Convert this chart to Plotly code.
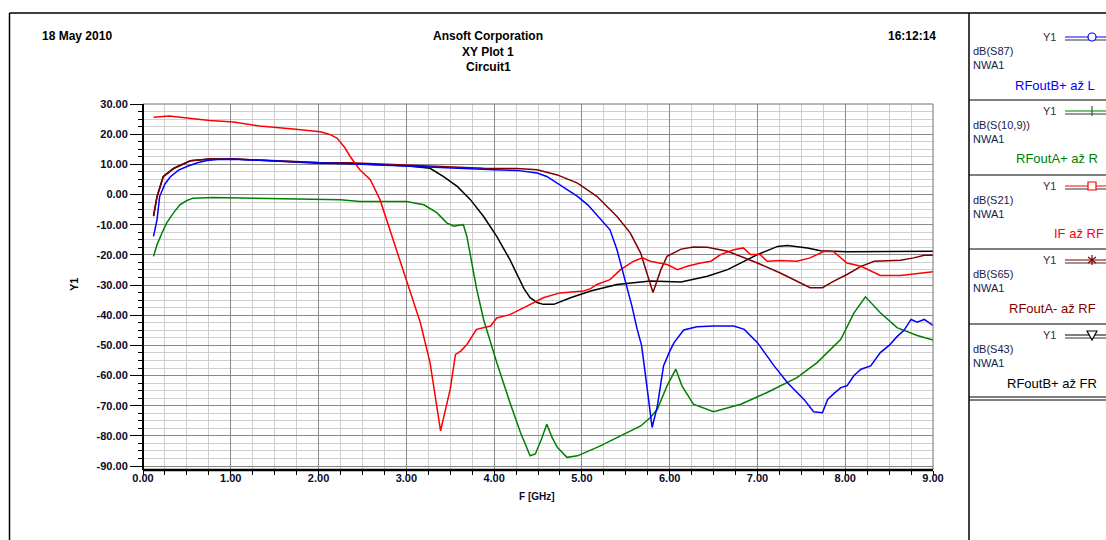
import plotly.graph_objects as go

# ---------------- data ----------------
f_blue = [0.12, 0.16, 0.19, 0.25, 0.31, 0.40, 0.50, 0.62, 0.73, 0.85,
          1.03, 1.50, 2.00, 2.36, 2.80, 3.31, 3.69, 4.00, 4.26, 4.49,
          4.60, 4.72, 4.85, 4.95, 5.07, 5.17, 5.32, 5.40, 5.50, 5.57,
          5.63, 5.68, 5.74, 5.80, 5.86, 5.93, 6.00, 6.05, 6.16, 6.31,
          6.50, 6.73, 6.85, 7.00, 7.19, 7.34, 7.53, 7.64, 7.74, 7.80,
          7.87, 7.95, 8.02, 8.10, 8.18, 8.29, 8.40, 8.50, 8.59, 8.67,
          8.75, 8.82, 8.90, 9.00]
db_blue = [-13.9, -8.3, -0.6, 3.5, 5.8, 8.0, 9.3, 10.5, 11.3, 11.6,
           11.7, 11.0, 10.5, 10.2, 9.6, 9.1, 8.5, 8.2, 8.0, 7.1,
           6.0, 3.8, 1.5, -0.6, -3.5, -6.7, -11.7, -18.3, -29.3, -37.0,
           -44.7, -50.0, -63.4, -77.2, -70.1, -56.8, -52.0, -49.1, -44.9, -43.8,
           -43.6, -43.6, -44.7, -49.1, -56.8, -62.3, -67.9, -72.0, -72.3, -67.9,
           -66.0, -64.0, -63.4, -60.0, -57.9, -56.8, -52.4, -50.0, -47.1, -45.0,
           -41.4, -42.3, -41.4, -43.4]

f_green = [0.12, 0.16, 0.22, 0.27, 0.35, 0.42, 0.50, 0.57, 0.80, 1.18,
           1.80, 2.25, 2.47, 3.00, 3.20, 3.35, 3.46, 3.54, 3.60, 3.65,
           3.69, 3.75, 3.80, 3.88, 4.03, 4.18, 4.30, 4.41, 4.47, 4.54,
           4.60, 4.66, 4.72, 4.83, 4.95, 5.21, 5.48, 5.67, 5.78, 5.86,
           5.97, 6.07, 6.14, 6.27, 6.50, 6.81, 7.11, 7.45, 7.68, 7.95,
           8.10, 8.23, 8.40, 8.59, 8.82, 9.00]
db_green = [-20.5, -16.6, -12.5, -9.4, -6.0, -3.4, -2.0, -1.2, -1.0, -1.2,
            -1.4, -1.7, -2.3, -2.3, -3.4, -6.1, -9.4, -10.5, -10.2, -10.0,
            -13.9, -22.7, -31.2, -41.4, -55.7, -68.9, -78.9, -86.6, -86.0, -81.0,
            -76.1, -80.5, -83.8, -87.1, -86.6, -83.3, -79.4, -76.7, -73.9, -71.2,
            -63.4, -57.9, -63.4, -69.5, -72.0, -69.5, -65.6, -60.7, -55.7, -48.0,
            -39.2, -33.9, -39.2, -44.1, -46.7, -48.2]

f_red = [0.12, 0.30, 0.50, 0.76, 1.03, 1.33, 1.71, 2.02, 2.12, 2.21,
         2.30, 2.36, 2.47, 2.59, 2.70, 2.85, 3.03, 3.16, 3.27, 3.39,
         3.50, 3.56, 3.62, 3.69, 3.80, 3.96, 4.03, 4.18, 4.34, 4.56,
         4.75, 5.02, 5.10, 5.17, 5.32, 5.44, 5.59, 5.69, 5.78, 5.89,
         5.97, 6.09, 6.20, 6.35, 6.47, 6.58, 6.73, 6.84, 6.92, 7.03,
         7.11, 7.26, 7.45, 7.60, 7.76, 7.87, 8.02, 8.18, 8.29, 8.40,
         8.63, 8.78, 9.00]
db_red = [25.6, 26.0, 25.4, 24.5, 24.0, 22.7, 21.7, 20.8, 20.0, 18.7,
          15.5, 12.6, 8.2, 4.9, -1.7, -15.0, -30.4, -42.5, -55.7, -78.3,
          -64.5, -53.0, -51.9, -49.7, -44.7, -43.6, -40.9, -39.8, -37.5, -34.2,
          -32.6, -32.0, -31.2, -29.8, -28.2, -24.9, -22.1, -21.0, -22.1, -22.7,
          -23.2, -24.9, -23.8, -22.7, -22.1, -19.9, -18.3, -17.7, -19.9, -19.9,
          -22.1, -21.9, -22.1, -21.0, -18.8, -19.0, -22.7, -23.8, -25.4, -26.8,
          -26.8, -26.3, -25.6]

f_maroon = [0.12, 0.16, 0.23, 0.35, 0.54, 0.76, 1.03, 1.50, 2.00, 2.36,
            3.00, 3.50, 3.88, 4.26, 4.49, 4.72, 4.95, 5.17, 5.40, 5.55,
            5.67, 5.74, 5.81, 5.90, 5.97, 6.13, 6.27, 6.43, 6.66, 7.00,
            7.26, 7.60, 7.74, 7.87, 8.02, 8.18, 8.33, 8.63, 8.78, 8.90,
            9.00]
db_maroon = [-7.0, -0.8, 5.8, 8.6, 11.2, 11.8, 11.8, 11.3, 10.6, 10.5,
             9.8, 9.1, 8.7, 8.6, 8.2, 6.5, 3.8, -0.6, -7.3, -12.7,
             -19.4, -26.0, -32.5, -24.9, -20.5, -18.1, -17.4, -17.5, -18.8, -22.7,
             -26.0, -30.9, -30.9, -28.7, -26.5, -23.8, -22.1, -21.8, -21.0, -20.1,
             -20.1]

f_black = [0.12, 0.16, 0.23, 0.35, 0.54, 0.76, 1.03, 1.50, 2.00, 2.40,
           3.00, 3.27, 3.42, 3.58, 3.73, 3.88, 4.03, 4.18, 4.34, 4.41,
           4.49, 4.56, 4.68, 4.87, 5.10, 5.40, 5.78, 6.13, 6.43, 6.66,
           6.81, 7.00, 7.23, 7.34, 7.57, 7.72, 8.02, 8.33, 8.71, 9.00]
db_black = [-7.2, -0.6, 6.0, 8.7, 11.2, 11.8, 11.8, 11.2, 10.4, 10.2,
            9.5, 8.7, 6.0, 2.7, -1.7, -7.3, -13.9, -21.6, -31.2, -34.2,
            -35.8, -36.4, -36.4, -34.2, -32.0, -29.8, -28.7, -29.0, -27.1, -24.9,
            -22.7, -19.9, -17.2, -16.9, -17.7, -18.6, -19.0, -19.0, -18.8, -18.8]

y_ticks = [30, 20, 10, 0, -10, -20, -30, -40, -50, -60, -70, -80, -90]
x_ticks = [0, 1, 2, 3, 4, 5, 6, 7, 8, 9]

legend_names = ["RFoutB+ až L", "RFoutA+ až R", "IF až RF", "RFoutA- až RF", "RFoutB+ až FR"]
legend_exprs = ["dB(S87)", "dB(S(10,9))", "dB(S21)", "dB(S65)", "dB(S43)"]
legend_colors = ["#0000ff", "#008000", "#ff0000", "#800000", "#000000"]
legend_symbols = ["circle", "plus", "square", "asterisk", "triangle"]

# ---------------- geometry helpers ----------------
W, H = 1106, 540
L, R, T, B = 143, 933, 104, 470


def px(x):
    return (x - L) / (R - L)


def py(y):
    return (B - y) / (B - T)


fig = go.Figure()

series = [
    (f_green, db_green, "#008000"),
    (f_black, db_black, "#000000"),
    (f_maroon, db_maroon, "#800000"),
    (f_red, db_red, "#ff0000"),
    (f_blue, db_blue, "#0000ff"),
]
for fx, fy, col in series:
    fig.add_trace(go.Scatter(x=fx, y=fy, mode="lines",
                             line=dict(color=col, width=1.5),
                             showlegend=False, hoverinfo="skip"))

tick_font = dict(family="Liberation Sans, Arial, sans-serif", size=11, color="#0a0a2a")

fig.update_xaxes(range=[0, 9], tickvals=x_ticks,
                 ticktext=[f"<b>{v:.2f}</b>" for v in x_ticks],
                 tickfont=tick_font, showgrid=True, gridcolor="#8a8a8a", gridwidth=1,
                 zeroline=False, showline=False, ticks="", ticklen=0,
                 minor=dict(dtick=0.25, tick0=0, showgrid=True, gridcolor="#cfcfcf",
                            gridwidth=1, ticks="outside", ticklen=4, tickcolor="#000"),
                 fixedrange=True)
fig.update_yaxes(range=[-91.3, 30], tickvals=y_ticks,
                 ticktext=[f"<b>{v:.2f}</b>" for v in y_ticks],
                 tickfont=tick_font, showgrid=True, gridcolor="#8a8a8a", gridwidth=1,
                 zeroline=False, showline=False, ticks="outside", ticklen=12,
                 tickcolor="#000", tickwidth=1,
                 minor=dict(dtick=2.5, tick0=0, showgrid=True, gridcolor="#cfcfcf",
                            gridwidth=1, ticks="outside", ticklen=4, tickcolor="#000"),
                 fixedrange=True)

shapes = []
# plot box (gray top/right) and black left/bottom axis lines
shapes.append(dict(type="rect", xref="paper", yref="paper", x0=0, y0=0, x1=1, y1=1,
                   line=dict(color="#707070", width=1)))
shapes.append(dict(type="line", xref="paper", yref="paper", x0=0, y0=0, x1=0, y1=1,
                   line=dict(color="#000", width=2)))
shapes.append(dict(type="line", xref="paper", yref="paper", x0=0, y0=0, x1=1, y1=0,
                   line=dict(color="#000", width=2.5)))
# outer frame
shapes.append(dict(type="line", xref="paper", yref="paper", x0=px(9.5), y0=py(13), x1=px(9.5), y1=py(545),
                   line=dict(color="#000", width=1.5)))
shapes.append(dict(type="line", xref="paper", yref="paper", x0=px(9.5), y0=py(13), x1=px(1110), y1=py(13),
                   line=dict(color="#000", width=1.5)))
shapes.append(dict(type="line", xref="paper", yref="paper", x0=px(969), y0=py(13), x1=px(969), y1=py(545),
                   line=dict(color="#000", width=1.5)))

annotations = []
hdr_font = dict(family="Liberation Sans Narrow, Arial Narrow, Liberation Sans, Arial", size=12, color="#000")
annotations.append(dict(text="<b>18 May 2010</b>", x=px(40), y=py(36), xref="paper", yref="paper",
                        xanchor="left", yanchor="middle", showarrow=False, font=hdr_font))
annotations.append(dict(text="<b>16:12:14</b>", x=px(938), y=py(36), xref="paper", yref="paper",
                        xanchor="right", yanchor="middle", showarrow=False, font=hdr_font))
for txt, yy in [("Ansoft Corporation", 36), ("XY Plot 1", 52), ("Circuit1", 67)]:
    annotations.append(dict(text=f"<b>{txt}</b>", x=px(488), y=py(yy), xref="paper", yref="paper",
                            xanchor="center", yanchor="middle", showarrow=False, font=hdr_font))
annotations.append(dict(text="<b>Y1</b>", x=px(74), y=py(285), xref="paper", yref="paper",
                        xanchor="center", yanchor="middle", showarrow=False, textangle=-90,
                        font=dict(family="Liberation Sans, Arial", size=11, color="#000")))
annotations.append(dict(text="<b>F [GHz]</b>", x=px(537), y=py(496), xref="paper", yref="paper",
                        xanchor="center", yanchor="middle", showarrow=False,
                        font=dict(family="Liberation Sans, Arial", size=10, color="#0a0a2a")))

# legend panel
block_tops = [13, 100, 175, 249, 324]
name_x = [1013, 1014, 1052, 1007, 1005]
small_font = dict(family="Liberation Sans, Arial", size=11, color="#1a1a4a")


def marker_shape(kind, cx, cy, col):
    base = dict(xref="paper", yref="paper", xsizemode="pixel", ysizemode="pixel",
                xanchor=px(cx), yanchor=py(cy), line=dict(color=col, width=1.2))
    if kind == "circle":
        return [dict(type="circle", x0=-4, x1=4, y0=-4, y1=4, fillcolor="#fff", **base)]
    if kind == "square":
        return [dict(type="rect", x0=-4, x1=4, y0=-4, y1=4, fillcolor="#fff", **base)]
    if kind == "plus":
        return [dict(type="path", path="M0,-5 L0,5", **base)]
    if kind == "asterisk":
        return [dict(type="path", path="M0,-5 L0,5 M-4,-3 L4,3 M-4,3 L4,-3", **base)]
    if kind == "triangle":
        return [dict(type="path", path="M-5,4 L5,4 L0,-5 Z", fillcolor="#fff", **base)]
    return []


for i in range(5):
    t = block_tops[i]
    col = legend_colors[i]
    y_y1 = t + 24 if i == 0 else t + 11
    y_db = y_y1 + 14
    y_nwa = y_db + 14
    y_name = y_nwa + 20
    annotations.append(dict(text="Y1", x=px(1058), y=py(y_y1), xref="paper", yref="paper",
                            xanchor="right", yanchor="middle", showarrow=False,
                            font=dict(family="Liberation Sans, Arial", size=11, color="#333")))
    annotations.append(dict(text=legend_exprs[i], x=px(971), y=py(y_db), xref="paper", yref="paper",
                            xanchor="left", yanchor="middle", showarrow=False, font=small_font))
    annotations.append(dict(text="NWA1", x=px(971), y=py(y_nwa), xref="paper", yref="paper",
                            xanchor="left", yanchor="middle", showarrow=False, font=small_font))
    annotations.append(dict(text=legend_names[i], x=px(name_x[i]), y=py(y_name), xref="paper", yref="paper",
                            xanchor="left", yanchor="middle", showarrow=False,
                            font=dict(family="Liberation Sans, Arial", size=13, color=col)))
    shapes.append(dict(type="line", xref="paper", yref="paper", x0=px(1065), y0=py(y_y1), x1=px(1110), y1=py(y_y1),
                       line=dict(color=col, width=1.2)))
    shapes.append(dict(type="line", xref="paper", yref="paper", x0=px(1065), y0=py(y_y1 + 3), x1=px(1110), y1=py(y_y1 + 3),
                       line=dict(color="#333", width=1.2)))
    shapes.extend(marker_shape(legend_symbols[i], 1092, y_y1, col))
    # separator below block
    sep = block_tops[i + 1] if i < 4 else 397
    shapes.append(dict(type="line", xref="paper", yref="paper", x0=px(969), y0=py(sep), x1=px(1110), y1=py(sep),
                       line=dict(color="#000", width=1)))
shapes.append(dict(type="line", xref="paper", yref="paper", x0=px(969), y0=py(400), x1=px(1110), y1=py(400),
                   line=dict(color="#000", width=1)))

fig.update_layout(width=W, height=H, autosize=False,
                  margin=dict(l=L, r=W - R, t=T, b=H - B, pad=0),
                  paper_bgcolor="#fff", plot_bgcolor="#fff",
                  shapes=shapes, annotations=annotations, showlegend=False)

fig.write_html("out.html", config={"displayModeBar": False},
               post_script="document.body.style.margin='0';document.body.style.overflow='hidden';")
